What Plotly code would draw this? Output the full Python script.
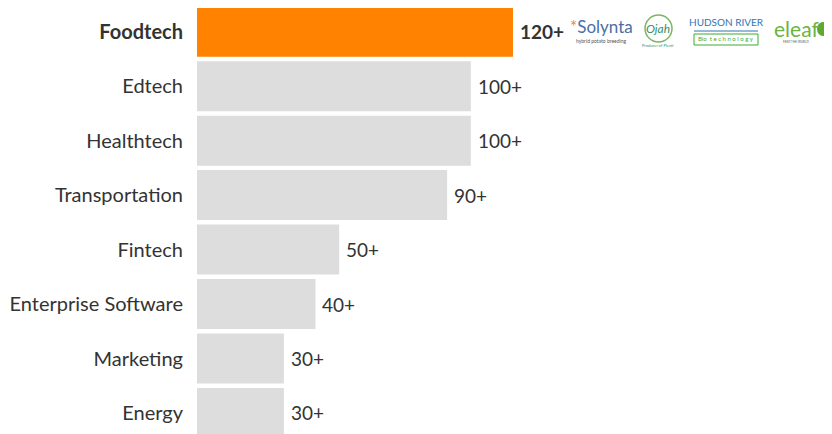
import plotly.graph_objects as go

categories = ["Foodtech", "Edtech", "Healthtech", "Transportation", "Fintech",
              "Enterprise Software", "Marketing", "Energy"]
values = [120, 104, 104, 95, 54, 45, 33, 33]
value_labels = ["120+", "100+", "100+", "90+", "50+", "40+", "30+", "30+"]
highlight = "Foodtech"

W, H = 832, 434
ML, MR, MT, MB = 189, 0, 0, 0
OFF = 8  # page body margin

colors = ["#FF8200" if c == highlight else "#DDDDDD" for c in categories]
ypos = list(range(len(categories)))
tick_text = [f"<b>{c}</b>" if c == highlight else c for c in categories]

fig = go.Figure(go.Bar(
    x=values, y=ypos, orientation="h",
    marker=dict(color=colors, line=dict(width=0)),
    hoverinfo="skip",
))

for c, v, t, y in zip(categories, values, value_labels, ypos):
    fig.add_annotation(x=v, y=y, xref="x", yref="y", xanchor="left", yanchor="middle",
                       xshift=5, showarrow=False,
                       text=f"<b>{t}</b>" if c == highlight else t,
                       font=dict(family="Lato", size=19, color="#333333"))

fig.update_layout(
    width=W, height=H,
    margin=dict(l=ML, r=MR, t=MT, b=MB, autoexpand=False),
    paper_bgcolor="white", plot_bgcolor="white",
    bargap=0.082, showlegend=False,
    xaxis=dict(range=[0, 244.2], visible=False, automargin=False),
    yaxis=dict(range=[7.533, -0.435], tickvals=ypos, ticktext=tick_text,
               tickfont=dict(family="Lato", size=20, color="#333333"),
               showgrid=False, zeroline=False, showline=False, automargin=False,
               ticks="outside", ticklen=9, tickcolor="rgba(0,0,0,0)"),
)


def px2paper(px, py):
    px -= OFF
    py -= OFF
    return (px - ML) / (W - ML - MR), (H - MB - py) / (H - MT - MB)


# logo-like text marks next to the highlighted bar (page pixel coords)
logo_items = [
    (601, 26, "<span style='color:#F28C28'>*</span>Solynta", 17, "#4A6FA5"),
    (601, 41, "hybrid potato breeding", 5, "#555555"),
    (658, 28, "<i>Ojah</i>", 12, "#3A8F6B"),
    (658, 46, "Producer of Plenti", 4, "#3A8F6B"),
    (726, 22, "HUDSON RIVER", 10, "#2E75B6"),
    (726, 39, "<span style='color:#3AAA35'>Bio</span>  t e c h n o l o g y", 6, "#3AAA35"),
    (796, 29, "eleaf", 21, "#6DB33F"),
    (796, 42, "FEED THE WORLD", 3, "#555555"),
]
for px, py, txt, size, col in logo_items:
    x, y = px2paper(px, py)
    fig.add_annotation(x=x, y=y, xref="paper", yref="paper",
                       xanchor="center", yanchor="middle", showarrow=False,
                       text=txt, font=dict(family="Lato", size=size, color=col))

# decorative shapes for the logos
x0, y0 = px2paper(694, 31)
x1, _ = px2paper(758, 31)
fig.add_shape(type="line", xref="paper", yref="paper", x0=x0, x1=x1, y0=y0, y1=y0,
              line=dict(color="#2E75B6", width=1))
x0, y0 = px2paper(694, 34)
x1, y1 = px2paper(758, 45)
fig.add_shape(type="rect", xref="paper", yref="paper", x0=x0, x1=x1, y0=y0, y1=y1,
              line=dict(color="#3AAA35", width=1))
x0, y0 = px2paper(645, 15)
x1, y1 = px2paper(672, 42)
fig.add_shape(type="circle", xref="paper", yref="paper", x0=x0, x1=x1, y0=y0, y1=y1,
              line=dict(color="#7BB661", width=1.5))
x0, y0 = px2paper(817, 22)
x1, y1 = px2paper(829, 36)
fig.add_shape(type="circle", xref="paper", yref="paper", x0=x0, x1=x1, y0=y0, y1=y1,
              fillcolor="#5FA832", line=dict(width=0))

fig.write_html("out.html")
